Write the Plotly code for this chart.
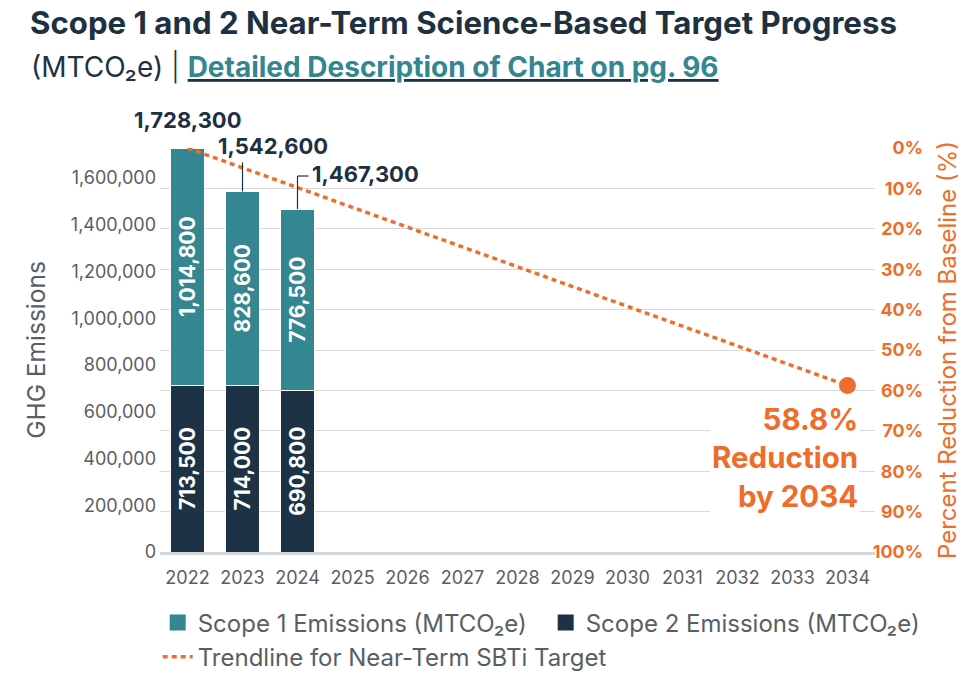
import plotly.graph_objects as go

# ---------------- data ----------------
years = [2022, 2023, 2024, 2025, 2026, 2027, 2028,
         2029, 2030, 2031, 2032, 2033, 2034]
bar_years = [2022, 2023, 2024]
scope1 = [1014800, 828600, 776500]
scope2 = [713500, 714000, 690800]
totals = [1728300, 1542600, 1467300]
baseline = 1728300
trend_years = [2022, 2034]
trend_pct = [0, 58.8]
emission_ticks = [0, 200000, 400000, 600000, 800000, 1000000,
                  1200000, 1400000, 1600000]
pct_ticks = [0, 10, 20, 30, 40, 50, 60, 70, 80, 90, 100]

# ---------------- style ----------------
FONT = "Inter"
TEAL = "#348690"
NAVY = "#1d3345"
ORANGE = "#ef6d2a"
GRAY = "#595e65"
TITLE = "#1e3142"
GRID = "#d8dadd"

fig = go.Figure()

fig.add_trace(go.Bar(
    x=bar_years, y=scope2, name="Scope 2 Emissions (MTCO₂e)",
    marker=dict(color=NAVY, line=dict(color="white", width=1)),
    text=[f"{v:,}" for v in scope2], textposition="inside",
    textangle=-90, insidetextanchor="middle",
    insidetextfont=dict(family=FONT, size=21, color="white", weight="bold"),
    showlegend=False, hoverinfo="skip",
))
fig.add_trace(go.Bar(
    x=bar_years, y=scope1, name="Scope 1 Emissions (MTCO₂e)",
    marker=dict(color=TEAL, line=dict(color="white", width=1)),
    text=[f"{v:,}" for v in scope1], textposition="inside",
    textangle=-90, insidetextanchor="middle",
    insidetextfont=dict(family=FONT, size=21, color="white", weight="bold"),
    showlegend=False, hoverinfo="skip",
))

# legend proxies for the bars (larger squares)
fig.add_trace(go.Scatter(
    x=[None], y=[None], mode="markers", name="Scope 1 Emissions (MTCO₂e)",
    marker=dict(symbol="square", size=19, color=TEAL), legendrank=1,
))
fig.add_trace(go.Scatter(
    x=[None], y=[None], mode="markers", name="Scope 2 Emissions (MTCO₂e)",
    marker=dict(symbol="square", size=19, color=NAVY), legendrank=2,
))

# trend line on the percent axis
fig.add_trace(go.Scatter(
    x=trend_years, y=trend_pct, yaxis="y2", mode="lines",
    name="Trendline for Near-Term SBTi Target",
    line=dict(color=ORANGE, width=3.5, dash="5px,4px"),
    legendrank=3, hoverinfo="skip",
))
fig.add_trace(go.Scatter(
    x=[trend_years[-1]], y=[trend_pct[-1]], yaxis="y2", mode="markers",
    marker=dict(color=ORANGE, size=17), showlegend=False, hoverinfo="skip",
))

annotations = []
annotations.append(dict(
    x=bar_years[0], y=totals[0], xref="x", yref="y", showarrow=False,
    text=f"<b>{totals[0]:,}</b>", xanchor="center", yanchor="bottom",
    yshift=13, font=dict(family=FONT, size=22, color=TITLE),
))
annotations.append(dict(
    x=bar_years[1], y=totals[1], xref="x", yref="y", showarrow=False,
    text=f"<b>{totals[1]:,}</b>", xanchor="center", yanchor="bottom",
    xshift=30, yshift=30, font=dict(family=FONT, size=22, color=TITLE),
))
annotations.append(dict(
    x=bar_years[2], y=totals[2], xref="x", yref="y", showarrow=False,
    text=f"<b>{totals[2]:,}</b>", xanchor="left", yanchor="middle",
    xshift=12, yshift=35, font=dict(family=FONT, size=22, color=TITLE),
))
annotations.append(dict(
    x=trend_years[-1], y=trend_pct[-1], xref="x", yref="y2", showarrow=False,
    text=f"<b>{trend_pct[-1]}%<br>Reduction<br>by {trend_years[-1]}</b>",
    xanchor="right", yanchor="top", align="right", xshift=13, yshift=-13,
    bgcolor="white", font=dict(family=FONT, size=29.5, color=ORANGE),
))
annotations.append(dict(
    x=-0.172, y=1.309, xref="paper", yref="paper", showarrow=False,
    xanchor="left", yanchor="middle",
    text="<b>Scope 1 and 2 Near-Term Science-Based Target Progress</b>",
    font=dict(family=FONT, size=31.2, color=TITLE),
))
annotations.append(dict(
    x=-0.171, y=1.2, xref="paper", yref="paper", showarrow=False,
    xanchor="left", yanchor="middle",
    text=("(MTCO₂e) <span style='font-weight:300'>|</span> "
          f"<b><u><span style='color:{TEAL}'>Detailed Description of Chart on pg. 96</span></u></b>"),
    font=dict(family=FONT, size=28, color=TITLE),
))

shapes = [
    dict(type="line", xref="x", yref="y", x0=bar_years[1], x1=bar_years[1],
         ysizemode="pixel", yanchor=totals[1], y0=0, y1=29,
         line=dict(color=TITLE, width=1.2)),
    dict(type="line", xref="x", yref="y", x0=bar_years[2], x1=bar_years[2],
         ysizemode="pixel", yanchor=totals[2], y0=0, y1=33,
         line=dict(color=TITLE, width=1.2)),
    dict(type="line", xref="x", yref="y", xsizemode="pixel", xanchor=bar_years[2],
         x0=0, x1=11, ysizemode="pixel", yanchor=totals[2], y0=33, y1=33,
         line=dict(color=TITLE, width=1.2)),
]

fig.update_layout(
    width=977, height=681,
    margin=dict(l=160, r=51, t=148, b=129, autoexpand=False),
    paper_bgcolor="white", plot_bgcolor="white",
    barmode="stack", bargap=0.364,
    font=dict(family=FONT, color=GRAY),
    xaxis=dict(
        domain=[0, 0.9334], type="linear",
        range=[years[0] - 0.5, years[-1] + 0.5],
        tickvals=years, tickformat="d",
        showgrid=False, zeroline=False, showline=True,
        linecolor="#d2d5da", linewidth=3, ticks="",
        tickfont=dict(family=FONT, size=18, color=GRAY),
        ticklabelstandoff=7, fixedrange=True,
    ),
    yaxis=dict(
        range=[0, baseline], tickvals=emission_ticks, tickformat=",d",
        showgrid=False, zeroline=False, ticks="",
        tickfont=dict(family=FONT, size=18, color=GRAY),
        ticklabelstandoff=3,
        title=dict(text="GHG Emissions", standoff=18,
                   font=dict(family=FONT, size=24.5, color=GRAY)),
        fixedrange=True,
    ),
    yaxis2=dict(
        overlaying="y", anchor="free", position=1, side="right",
        range=[100, 0], tickvals=pct_ticks,
        ticktext=[f"{p}%" for p in pct_ticks],
        showgrid=True, gridcolor=GRID, gridwidth=1, zeroline=False,
        ticklabelposition="inside", ticklabeloverflow="allow", ticks="",
        tickfont=dict(family=FONT, size=18, color=ORANGE, weight="bold"),
        title=dict(text="Percent Reduction from Baseline (%)", standoff=17,
                   font=dict(family=FONT, size=24, color=ORANGE)),
        fixedrange=True,
    ),
    legend=dict(
        orientation="h", x=-0.003, y=-0.12, xanchor="left", yanchor="top",
        font=dict(family=FONT, size=24, color=GRAY), traceorder="normal",
        bgcolor="rgba(0,0,0,0)", entrywidth=343,
    ),
    annotations=annotations,
    shapes=shapes,
    showlegend=True,
)

fig.write_html("out.html", config={"displayModeBar": False},
               post_script="document.body.style.margin='0';")
